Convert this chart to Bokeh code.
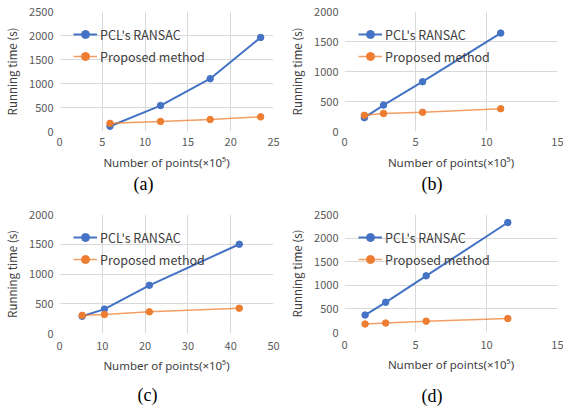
from bokeh.plotting import figure
from bokeh.layouts import row, column
from bokeh.models import Title, Legend, LegendItem, Range1d
from bokeh.embed import file_html
from bokeh.resources import INLINE

# ---- data ----
a_x = [5.9, 11.8, 17.6, 23.5]
a_pcl = [110, 540, 1100, 1960]
a_prop = [170, 210, 250, 305]

b_x = [1.4, 2.75, 5.5, 11.0]
b_pcl = [230, 440, 830, 1640]
b_prop = [270, 300, 320, 380]

c_x = [5.3, 10.5, 21.0, 42.0]
c_pcl = [290, 410, 810, 1500]
c_prop = [305, 320, 365, 425]

d_x = [1.45, 2.9, 5.75, 11.5]
d_pcl = [370, 640, 1200, 2330]
d_prop = [180, 200, 240, 295]

a_xticks = [0, 5, 10, 15, 20, 25]
b_xticks = [0, 5, 10, 15]
c_xticks = [0, 10, 20, 30, 40, 50]
d_xticks = [0, 5, 10, 15]
a_yticks = [0, 500, 1000, 1500, 2000, 2500]
b_yticks = [0, 500, 1000, 1500, 2000]
c_yticks = [0, 500, 1000, 1500, 2000]
d_yticks = [0, 500, 1000, 1500, 2000, 2500]

series_names = ["PCL's RANSAC", "Proposed method"]
x_title = "Number of points(×10⁵)"
y_title = "Running time (s)"
captions = ["(a)", "(b)", "(c)", "(d)"]

BLUE = "#4472C4"
ORANGE = "#ED7D31"
FONT = "Noto Sans CJK SC"


def panel(xs, pcl, prop, xticks, yticks, caption, bl, fw, br, bt, fh, bb,
          xl_standoff, xa_standoff, cap_standoff, cap_offset):
    p = figure(frame_width=fw, frame_height=fh,
               min_border_left=bl, min_border_right=br,
               min_border_top=bt, min_border_bottom=bb,
               x_range=Range1d(xticks[0], xticks[-1]),
               y_range=Range1d(yticks[0], yticks[-1]),
               output_backend="svg", toolbar_location=None)
    p.outline_line_color = None
    p.background_fill_color = "white"
    p.grid.grid_line_color = "#D9D9D9"
    p.grid.grid_line_width = 1
    p.xaxis.ticker = xticks
    p.yaxis.ticker = yticks
    for ax in (p.xaxis[0], p.yaxis[0]):
        ax.axis_line_color = None
        ax.major_tick_line_color = None
        ax.minor_tick_line_color = None
        ax.major_tick_out = 0
        ax.major_tick_in = 0
        ax.minor_tick_out = 0
        ax.major_label_text_font = FONT
        ax.major_label_text_font_size = "11px"
        ax.major_label_text_color = "#595959"
        ax.axis_label_text_font = FONT
        ax.axis_label_text_font_size = "11.5px"
        ax.axis_label_text_font_style = "normal"
        ax.axis_label_text_color = "#404040"
    p.xaxis.axis_label_text_font = "Noto Sans"
    p.xaxis.axis_label_text_font_size = "11.5px"
    p.xaxis.axis_label = x_title
    p.yaxis.axis_label = y_title
    p.xaxis.major_label_standoff = xl_standoff
    p.yaxis.major_label_standoff = 6
    p.xaxis.axis_label_standoff = xa_standoff
    p.yaxis.axis_label_standoff = 6

    l1 = p.line(xs, pcl, line_color=BLUE, line_width=2)
    s1 = p.scatter(xs, pcl, size=6.5, fill_color=BLUE, line_color=BLUE)
    l2 = p.line(xs, prop, line_color=ORANGE, line_width=1.5, line_alpha=0.75)
    s2 = p.scatter(xs, prop, size=6.5, fill_color=ORANGE, line_color=ORANGE)

    leg = Legend(items=[LegendItem(label=series_names[0], renderers=[l1, s1]),
                        LegendItem(label=series_names[1], renderers=[l2, s2])],
                 location=(14, fh - 55), padding=0, margin=0, spacing=2,
                 glyph_width=24, glyph_height=20, label_height=20,
                 label_standoff=3,
                 label_text_font=FONT, label_text_font_size="12.5px",
                 label_text_color="#404040",
                 background_fill_alpha=0, border_line_color=None)
    p.add_layout(leg)

    t = Title(text=caption, align="left", offset=cap_offset,
              text_font="Liberation Serif",
              text_font_size="18px", text_font_style="normal",
              text_color="black", standoff=cap_standoff)
    p.add_layout(t, "below")
    return p


pa = panel(a_x, a_pcl, a_prop, a_xticks, a_yticks, captions[0],
           59, 214, 8, 11, 120, 74, 6, 6, -2, 74)
pb = panel(b_x, b_pcl, b_prop, b_xticks, b_yticks, captions[1],
           63, 213, 6, 11, 120, 74, 6, 6, -2, 77)
pc = panel(c_x, c_pcl, c_prop, c_xticks, c_yticks, captions[2],
           59, 214, 8, 8, 119, 79, 8, 5, 14, 78)
pd = panel(d_x, d_pcl, d_prop, d_xticks, d_yticks, captions[3],
           63, 213, 6, 9, 118, 79, 8, 5, 18, 77)

layout = column(row(pa, pb), row(pc, pd))

open("out.html", "w").write(file_html(layout, INLINE))
